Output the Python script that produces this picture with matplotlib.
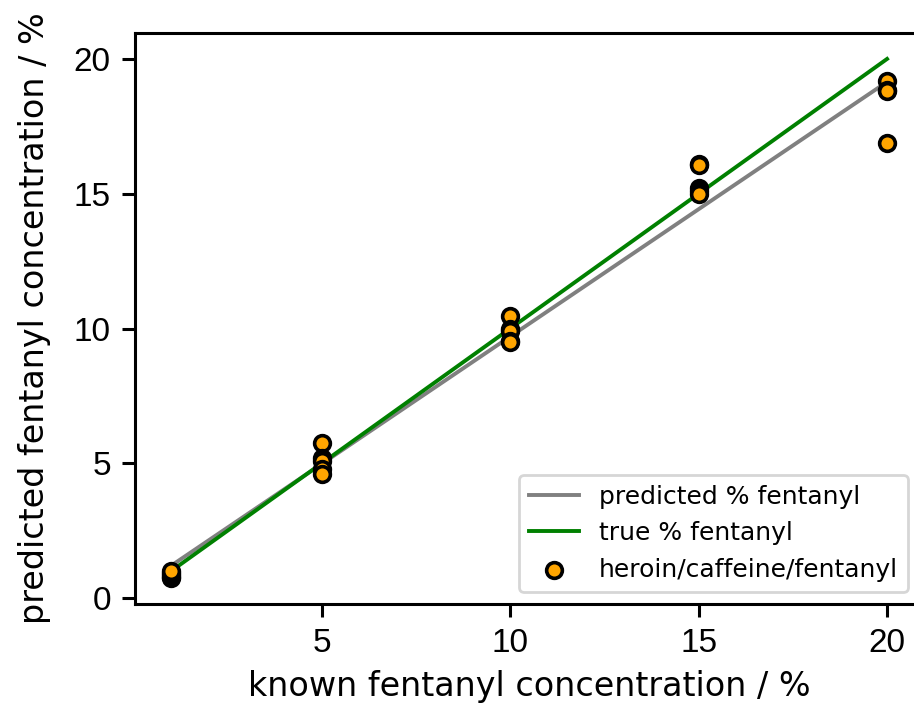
import matplotlib
matplotlib.use("Agg")
import matplotlib.pyplot as plt
import numpy as np

plt.rcParams["axes.linewidth"] = 1.1
plt.rcParams["xtick.major.width"] = 1.1
plt.rcParams["ytick.major.width"] = 1.1
plt.rcParams["xtick.major.size"] = 4.7
plt.rcParams["ytick.major.size"] = 4.7

known = [1, 1, 1, 1, 1,
         5, 5, 5, 5, 5,
         10, 10, 10, 10, 10,
         15, 15, 15, 15, 15,
         20, 20, 20, 20]
predicted = [0.75, 0.8, 0.85, 0.95, 1.0,
             5.75, 5.2, 5.1, 4.8, 4.6,
             10.45, 10.0, 9.9, 9.55, 9.5,
             16.1, 16.05, 15.2, 15.1, 15.0,
             19.2, 18.85, 18.8, 16.9]
line_x = [1, 20]
pred_line_y = [1.2, 19.15]
true_line_y = [1, 20]

fig = plt.figure(figsize=(4.57, 3.585), dpi=200)
ax = fig.add_axes([0.1477, 0.1576, 0.862, 0.7964])
ax.plot(line_x, pred_line_y, color="gray", lw=1.4, label="predicted % fentanyl")
ax.plot(line_x, true_line_y, color="green", lw=1.4, label="true % fentanyl")
ax.scatter(known, predicted, color="orange", edgecolor="black", linewidths=1.3,
           s=32, zorder=3, label="heroin/caffeine/fentanyl")
ax.set_xticks([5, 10, 15, 20])
ax.set_yticks([0, 5, 10, 15, 20])
ax.tick_params(labelsize=12, pad=4)
for lbl in ax.get_xticklabels() + ax.get_yticklabels():
    lbl.set_family(["Liberation Sans", "DejaVu Sans"])
ax.set_xlabel("known fentanyl concentration / %", fontsize=12)
ax.set_ylabel("predicted fentanyl concentration / %", fontsize=12, labelpad=8)
ax.legend(loc="lower right", fontsize=9, bbox_to_anchor=(0.997, 0.0))
fig.savefig("out.png", dpi=200)
